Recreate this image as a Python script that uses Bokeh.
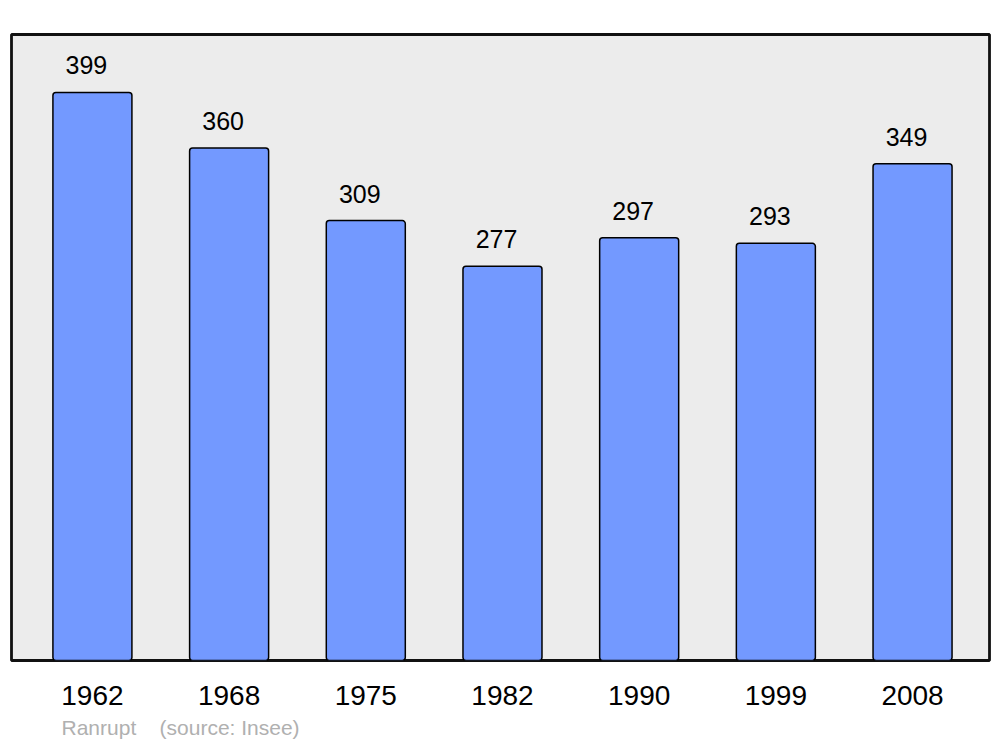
from bokeh.plotting import figure
from bokeh.models import ColumnDataSource, Range1d, Title, FixedTicker
from bokeh.core.properties import value
from bokeh.embed import file_html
from bokeh.resources import INLINE

years = ["1962", "1968", "1975", "1982", "1990", "1999", "2008"]
population = [399, 360, 309, 277, 297, 293, 349]
commune = "Ranrupt"
source_text = "(source: Insee)"

FONT = "Liberation Sans"
idx = list(range(len(years)))
src = ColumnDataSource(dict(x=idx, top=population, label=[str(v) for v in population]))

p = figure(width=992, height=747, output_backend="svg", toolbar_location=None,
           x_range=Range1d(-0.592, 6.563), y_range=Range1d(0, 439.7),
           min_border_left=11, min_border_right=3, min_border_top=34, min_border_bottom=87)
p.background_fill_color = "#ececec"
p.border_fill_color = "white"
p.outline_line_color = "#111111"
p.outline_line_width = 2.8
p.grid.visible = False
p.yaxis.visible = False

p.vbar(x="x", top="top", bottom=0, width=0.578, source=src,
       fill_color="#7399ff", line_color="black", line_width=1.5, border_radius=3)
p.text(x="x", y="top", text="label", source=src, x_offset=-6, y_offset=-27,
       text_align="center", text_baseline="alphabetic",
       text_font=value(FONT), text_font_size="25px", text_color="black")

ax = p.xaxis[0]
ax.ticker = FixedTicker(ticks=idx)
ax.major_label_overrides = {i: y for i, y in enumerate(years)}
ax.axis_line_color = None
ax.major_tick_line_color = None
ax.minor_tick_line_color = None
ax.major_label_standoff = 19
ax.major_label_text_font = FONT
ax.major_label_text_font_size = "28px"
ax.major_label_text_color = "black"

footer = commune + "\u00a0\u00a0\u00a0 " + source_text
p.add_layout(Title(text=footer, align="left", offset=50, standoff=12,
                   text_font=FONT, text_font_size="21px", text_font_style="normal",
                   text_color="#b0b0b0"), "below")

open("out.html", "w").write(file_html(p, INLINE))
